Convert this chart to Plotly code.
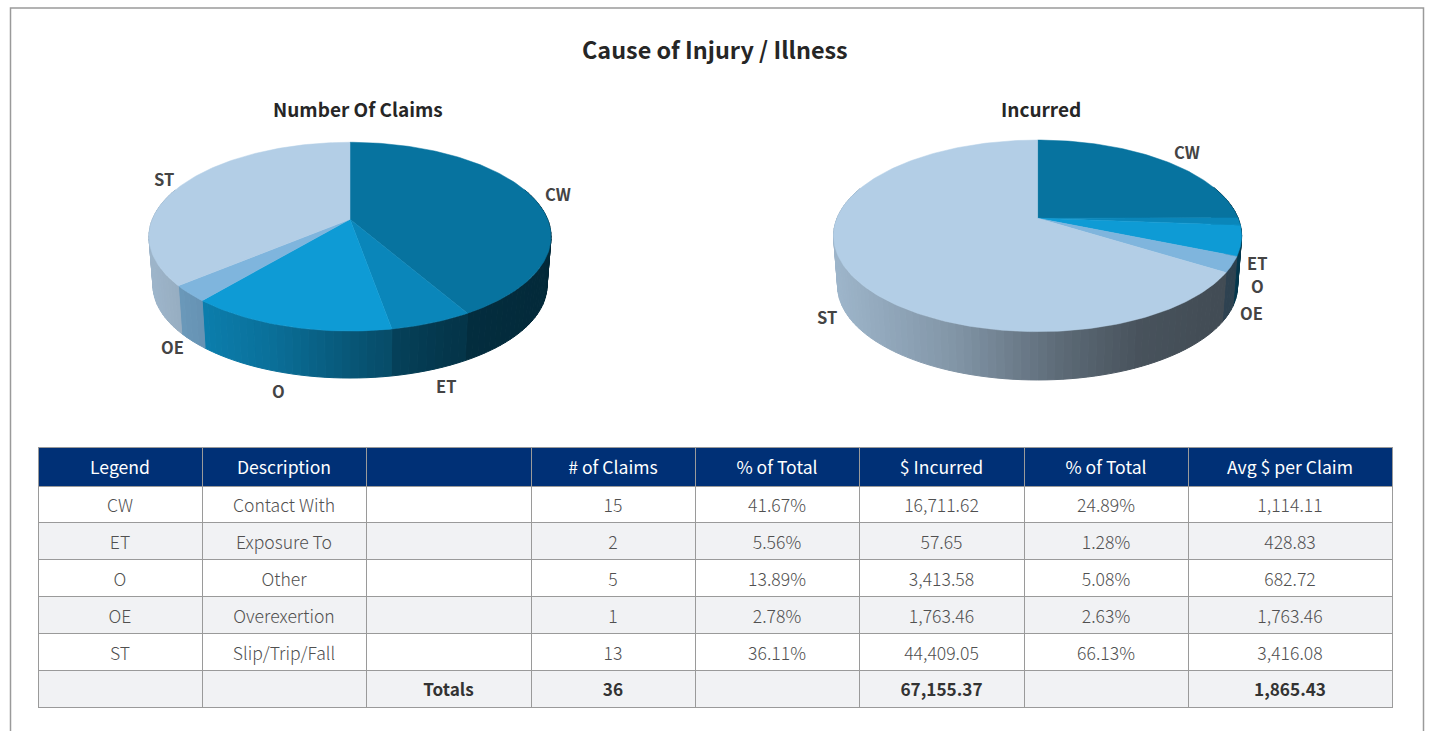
import numpy as np
import plotly.graph_objects as go

# ---- data ----
codes = ["CW", "ET", "O", "OE", "ST"]
descriptions = ["Contact With", "Exposure To", "Other", "Overexertion", "Slip/Trip/Fall"]
claims = [15, 2, 5, 1, 13]
pct_claims = [41.67, 5.56, 13.89, 2.78, 36.11]
incurred = [16711.62, 57.65, 3413.58, 1763.46, 44409.05]
pct_incurred = [24.89, 1.28, 5.08, 2.63, 66.13]
avg_per_claim = [1114.11, 428.83, 682.72, 1763.46, 3416.08]
total_claims = 36
total_incurred = 67155.37
total_avg = 1865.43
headers = ["Legend", "Description", "", "# of Claims", "% of Total", "$ Incurred", "% of Total", "Avg $ per Claim"]
slice_colors = ["#07739f", "#0a86ba", "#0e9bd5", "#7fb5dd", "#b3cee6"]

W, H = 1429, 731
FONT = "Noto Sans CJK SC"
fig = go.Figure()


def hex_rgb(c):
    return np.array([int(c[i:i + 2], 16) for i in (1, 3, 5)], float)


def shade(t):
    return float(np.interp(t, [0, 0.3, 0.55, 0.75, 1], [0.88, 0.72, 0.52, 0.40, 0.36]))


def add_pie(values, cx, cy, a, b, k, depth):
    """Tilted 3-D pie: the unit circle goes through a perspective map."""
    vals = np.array(values, float)
    edges = np.concatenate([[0], np.cumsum(vals)]) / vals.sum() * 2 * np.pi

    def proj(th, s=1.0, d=0.0):
        u, v = np.sin(th), -np.cos(th)
        den = 1 - k * v
        return cx + s * a * u / den, cy + s * b * v / den + d

    xmax = a / np.sqrt(1 - k * k)
    # side wall
    for i, col in enumerate(slice_colors):
        n = max(2, int(np.degrees(edges[i + 1] - edges[i]) / 2))
        e = np.linspace(edges[i], edges[i + 1], n + 1)
        base = hex_rgb(col)
        for j in range(n):
            mid = (e[j] + e[j + 1]) / 2
            if -np.cos(mid) < -0.35:
                continue
            th = np.array([e[j], e[j + 1]])
            x0, y0 = proj(th)
            x1, y1 = proj(th[::-1], 0.98, depth)
            t = (proj(mid)[0] - cx + xmax) / (2 * xmax)
            c = base * shade(t)
            color = f"rgb({c[0]:.0f},{c[1]:.0f},{c[2]:.0f})"
            fig.add_trace(go.Scatter(
                x=np.r_[x0, x1, x0[0]], y=np.r_[y0, y1, y0[0]], mode="lines",
                fill="toself", fillcolor=color, line=dict(color=color, width=1),
                hoverinfo="skip", showlegend=False))
    # top face
    for i, col in enumerate(slice_colors):
        th = np.linspace(edges[i], edges[i + 1], max(3, int(np.degrees(edges[i + 1] - edges[i]))))
        x, y = proj(th)
        fig.add_trace(go.Scatter(
            x=np.r_[cx, x, cx], y=np.r_[cy, y, cy], mode="lines", fill="toself",
            fillcolor=col, line=dict(color=col, width=0.5), name=codes[i],
            hoverinfo="skip", showlegend=False))


add_pie(claims, 350, 219.3, 197.6, 91.2, 0.184, 49.2)
add_pie(pct_incurred, 1037.6, 218.3, 200.6, 92.6, 0.183, 50.6)

# table: one go.Table for the grid and fills; transparent ones for the text,
# set a little lower so the labels sit in the middle of their rows.
body_values = [
    codes + [""],
    descriptions + [""],
    [""] * 6,
    [str(v) for v in claims] + [""],
    [f"{v:.2f}%" for v in pct_claims] + [""],
    [f"{v:,.2f}" for v in incurred] + [""],
    [f"{v:.2f}%" for v in pct_incurred] + [""],
    [f"{v:,.2f}" for v in avg_per_claim] + [""],
]
totals_row = ["", "", "Totals", str(total_claims), "", f"{total_incurred:,.2f}", "", f"{total_avg:,.2f}"]
totals_values = [[""] * 5 + [t] for t in totals_row]
col_w = [164, 164, 165, 164, 164, 165, 164, 204]
row_fill = ["#ffffff", "#f1f2f4", "#ffffff", "#f1f2f4", "#ffffff", "#f1f2f4"]
row_h = 36.9
clear = "rgba(0,0,0,0)"
x_dom = [38 / W, 1392.5 / W]
fig.add_trace(go.Table(
    domain=dict(x=x_dom, y=[1 - 712 / H, 1 - 447 / H]),
    columnwidth=col_w,
    header=dict(values=[""] * 8, height=39, fill_color="#003076",
                line=dict(color="#9a9a9a", width=1)),
    cells=dict(values=[[""] * 6] * 8, height=row_h, fill_color=[row_fill] * 8,
               line=dict(color="#9a9a9a", width=1)),
))
text_domain = dict(x=x_dom, y=[1 - 718 / H, 1 - 453 / H])
fig.add_trace(go.Table(
    domain=text_domain, columnwidth=col_w,
    header=dict(values=headers, height=38, fill_color=clear,
                line=dict(color=clear, width=0), align="center",
                font=dict(family=FONT, size=17.6, color="#ffffff")),
    cells=dict(values=body_values, height=row_h, fill_color=clear,
               line=dict(color=clear, width=0), align="center",
               font=dict(family=FONT, size=17.6, color="#505050", weight=300)),
))
fig.add_trace(go.Table(
    domain=text_domain, columnwidth=col_w,
    header=dict(values=[""] * 8, height=38, fill_color=clear, line=dict(color=clear, width=0)),
    cells=dict(values=totals_values, height=row_h, fill_color=clear,
               line=dict(color=clear, width=0), align="center",
               font=dict(family=FONT, size=17.2, color="#333333", weight=700)),
))

titles = [("Cause of Injury / Illness", 715, 48.5, 23.4), ("Number Of Claims", 358, 108.7, 19), ("Incurred", 1041, 108.7, 19)]
labels = [("CW", 558, 193.7), ("ET", 446, 385.7), ("O", 278, 390.7), ("OE", 172, 346.7), ("ST", 164, 178.7),
          ("CW", 1187, 151.7), ("ET", 1256.5, 262.7), ("O", 1257, 285.7), ("OE", 1251, 312.7), ("ST", 827, 316.7)]
ann = [dict(x=x, y=y, text=f"<b>{t}</b>", showarrow=False, xref="x", yref="y",
            font=dict(family=FONT, size=s, color="#262626")) for t, x, y, s in titles]
ann += [dict(x=x, y=y, text=f"<b>{t}</b>", showarrow=False, xref="x", yref="y",
             font=dict(family=FONT, size=16.5, color="#444444")) for t, x, y in labels]

frame = dict(type="path", path="M 10.5 731 L 10.5 8 L 1423.5 8 L 1423.5 731",
             line=dict(color="#9a9a9a", width=1.5), xref="x", yref="y")

fig.update_layout(
    width=W, height=H, margin=dict(l=0, r=0, t=0, b=0),
    paper_bgcolor="#ffffff", plot_bgcolor="#ffffff", showlegend=False,
    xaxis=dict(range=[0, W], visible=False, domain=[0, 1], fixedrange=True),
    yaxis=dict(range=[H, 0], visible=False, domain=[0, 1], fixedrange=True),
    annotations=ann, shapes=[frame],
)
fig.write_html("out.html", config=dict(displayModeBar=False),
               post_script="document.body.style.margin='0';document.body.style.overflow='hidden';")
